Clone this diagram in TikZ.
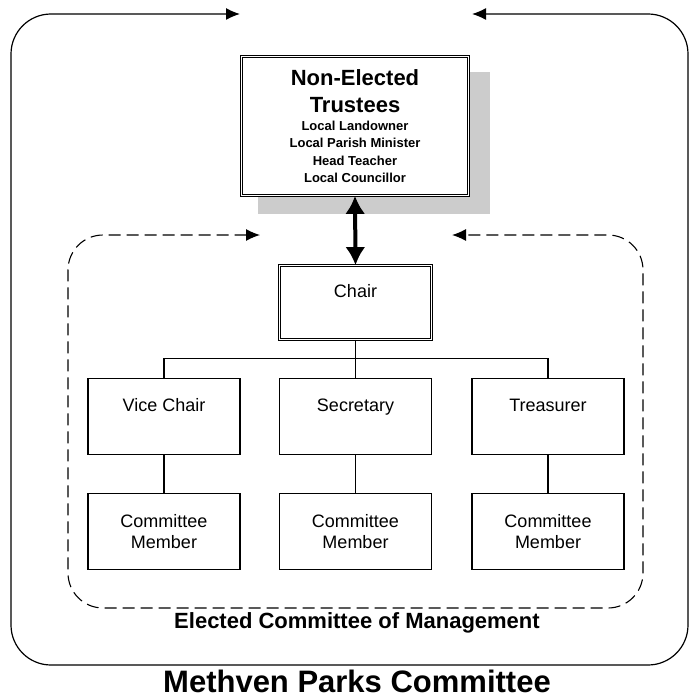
\documentclass[tikz,border=0pt]{standalone}
\usepackage{fontspec}
\setmainfont{Liberation Sans}
\usetikzlibrary{calc, arrows.meta}

\begin{document}
\begin{tikzpicture}[x=1pt, y=-1pt,
                box/.style={draw, line width=1.1pt, fill=white, minimum width=152, minimum height=76,
                    font=\fontsize{18}{21}\selectfont, align=center},
                topbox/.style={box, text height=13pt, text depth=23pt},
                dblbox/.style={double, double distance=1.6pt, line width=0.7pt},
                frameline/.style={line width=1.2pt, rounded corners=40pt,
                    arrows={Latex[length=14pt,width=12pt]-Latex[length=14pt,width=12pt]}},
                dashline/.style={frameline, line width=1.1pt, rounded corners=35pt, dash pattern=on 12pt off 6pt}]
                \useasboundingbox (0,0) rectangle (690,698);
                \coordinate (otipL) at (240,14);
                \coordinate (otipR) at (472,14);
                \coordinate (dtipL) at (260,235);
                \coordinate (dtipR) at (452,235);
                \draw[frameline] (otipL) -- (11,14) -- (11,665) -- (688,665) -- (688,14) -- (otipR);
                \draw[dashline] (dtipL) -- (68,235) -- (68,608) -- (643,608) -- (643,235) -- (dtipR);
                \fill[black!20] (258,72) rectangle (490,214);
                \node[box, dblbox, minimum width=227, minimum height=139, font=\bfseries\fontsize{13}{17.5}\selectfont] (trustees) at (355,126)
                    {{\fontsize{22}{27}\selectfont Non-Elected}\\[10pt]{\fontsize{22}{27}\selectfont Trustees}\\
                     Local Landowner\\Local Parish Minister\\Head Teacher\\Local Councillor};
                \node[topbox, dblbox, minimum height=74] (chair) at (355.5,302.5) {Chair};
                \node[topbox] (vice) at (164,416.5) {Vice Chair};
                \node[topbox] (sec) at (355.5,416.5) {Secretary};
                \node[topbox] (treas) at (548,416.5) {Treasurer};
                \node[box] (cm1) at (164,531.5) {Committee\\Member};
                \node[box] (cm2) at (355.5,531.5) {Committee\\Member};
                \node[box] (cm3) at (548,531.5) {Committee\\Member};
                \draw[line width=4pt, arrows={Latex[length=18pt,width=20pt]-Latex[length=18pt,width=20pt]}]
                    (trustees.south) -- (chair.north);
                \draw[line width=1.1pt] (chair.south) -- (sec.north);
                \draw[line width=1.1pt] (vice.north) |- ($(chair.south)!0.5!(sec.north)$) -| (treas.north);
                \foreach \a/\b in {vice/cm1, sec/cm2, treas/cm3}
                    \draw[line width=1.1pt] (\a) -- (\b);
                \node[font=\bfseries\fontsize{22}{26}\selectfont] (elected) at (357,623) {Elected Committee of Management};
                \node[font=\bfseries\fontsize{31}{36}\selectfont] (title) at (357,681) {Methven Parks Committee};
            \end{tikzpicture}
\end{document}
